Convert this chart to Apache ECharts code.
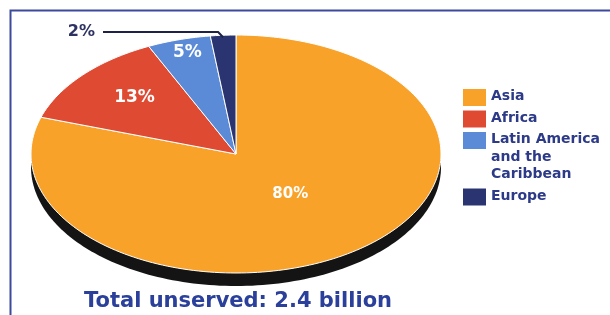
<!DOCTYPE html>
<html>
<head>
<meta charset="utf-8">
<script src="https://cdn.jsdelivr.net/npm/echarts@6/dist/echarts.min.js"></script>
<style>
html, body { margin: 0; padding: 0; background: #fff; }
#chart { width: 610px; height: 315px; }
</style>
</head>
<body>
<div id="chart"></div>
<script>
// data
const regions = ['Asia', 'Africa', 'Latin America\nand the\nCaribbean', 'Europe']
const shares = [80, 13, 5, 2]
const sliceColors = ['#f8a22a', '#df4a33', '#5b8bd7', '#2a3470']
const totalText = 'Total unserved: 2.4 billion'

// layout of the tilted pie
const pie = { cx: 236, cy: 154, rx: 205, ry: 119, depth: 13 }
const labelRadius = [0.45, 0.66, 0.85, 0]
const font = '"DejaVu Sans", sans-serif'
const navy = '#2c3a88'

const total = shares.reduce((a, b) => a + b, 0)
const startFrac = []
let acc = 0
shares.forEach(v => { startFrac.push(acc / total); acc += v })

// point on the ellipse, frac = share of a full turn clockwise from 12 o'clock
function pt(frac, k, dy) {
    const a = frac * Math.PI * 2
    return [pie.cx + pie.rx * k * Math.sin(a), pie.cy - pie.ry * k * Math.cos(a) + (dy || 0)]
}

function renderSlice(params, api) {
    const i = params.dataIndex
    const v = api.value(0)
    const f0 = startFrac[i]
    const f1 = f0 + v / total
    const children = []

    if (i === 0) {
        //dark rim under the pie
        const rim = []
        for (let s = 0; s <= 240; s++) rim.push(pt(s / 240, 1, pie.depth))
        children.push({ type: 'polygon', shape: { points: rim }, style: { fill: '#141414' } })
    }

    const pts = [[pie.cx, pie.cy]]
    const steps = Math.max(4, Math.ceil((f1 - f0) * 240))
    for (let s = 0; s <= steps; s++) pts.push(pt(f0 + (f1 - f0) * s / steps, 1))
    children.push({
        type: 'polygon',
        shape: { points: pts },
        style: { fill: sliceColors[i], stroke: '#fff', lineWidth: 1 }
    })

    const pct = Math.round(v / total * 100) + '%'
    if (labelRadius[i] > 0) {
        const c = pt((f0 + f1) / 2, labelRadius[i])
        children.push({
            type: 'text',
            style: {
                text: pct, x: c[0], y: c[1] - (i === 0 ? 3 : 4), align: 'center', verticalAlign: 'middle',
                fill: '#fff', font: 'bold ' + (i === 0 ? 15 : 17) + 'px ' + font
            }
        })
    } else {
        //small slice: leader line out to the left
        const p = pt((f0 + f1) / 2, 1, 2)
        children.push({
            type: 'polyline',
            shape: { points: [p, [p[0] - 5, 32], [103, 32]] },
            style: { stroke: '#1e2346', lineWidth: 2, fill: null }
        })
        children.push({
            type: 'text',
            style: {
                text: pct, x: 95, y: 32, align: 'right', verticalAlign: 'middle',
                fill: '#2d3262', font: 'bold 16px ' + font
            }
        })
    }
    return { type: 'group', children: children }
}

// legend rows
const legendItems = []
let rowTop = 89
regions.forEach((name, i) => {
    const lines = name.split('\n').length
    legendItems.push({
        type: 'rect', shape: { x: 463, y: rowTop, width: 23, height: 17 },
        style: { fill: sliceColors[i] }
    })
    legendItems.push({
        type: 'text',
        style: {
            text: name, x: 491, y: rowTop - 1, verticalAlign: 'top',
            lineHeight: 17.5, fill: navy, font: 'bold 14px ' + font
        }
    })
    rowTop += lines * 17.5 + 4
})

const chart = echarts.init(document.getElementById('chart'))
chart.setOption({
    animation: false,
    backgroundColor: '#fff',
    series: [{
        type: 'custom',
        coordinateSystem: 'none',
        data: shares.map((v, i) => ({ name: regions[i], value: [v] })),
        renderItem: renderSlice
    }],
    graphic: [
        {
            type: 'polyline',
            shape: { points: [[10.5, 315], [10.5, 10.5], [610, 10.5]] },
            style: { stroke: '#3b4a9c', lineWidth: 2, fill: null }
        },
        {
            type: 'text',
            style: {
                text: totalText, x: 238, y: 302, align: 'center', verticalAlign: 'middle',
                fill: '#2b409a', font: 'bold 21px ' + font
            }
        }
    ].concat(legendItems)
})
</script>
</body>
</html>
